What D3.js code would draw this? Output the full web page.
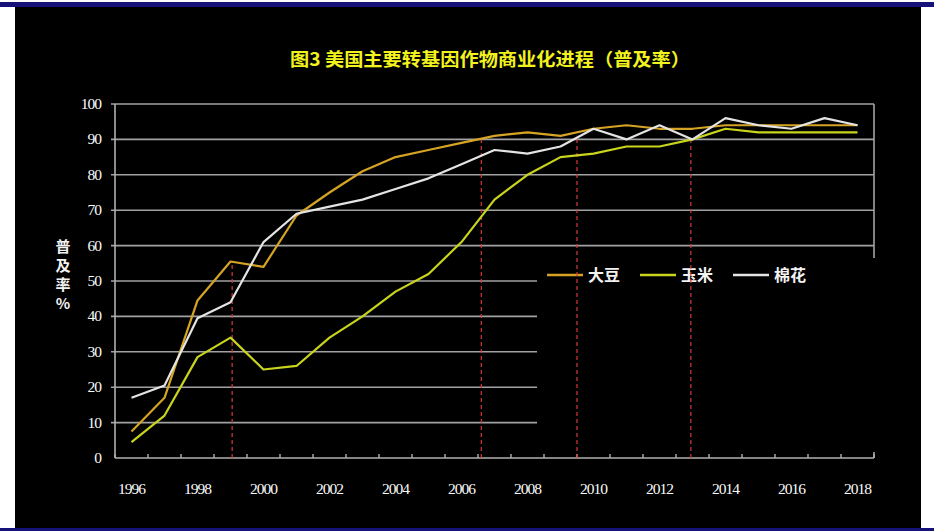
<!DOCTYPE html>
<html>
<head>
<meta charset="utf-8">
<script src="https://cdn.jsdelivr.net/npm/d3@7"></script>
<style>
  body { margin: 0; background: #fff; }
  svg { display: block; }
</style>
</head>
<body>
<svg id="chart" width="934" height="532"></svg>
<script>
// data
var years = d3.range(1996, 2019);
var soybean = [7.5, 17, 44.5, 55.5, 54, 68.5, 75, 81, 85, 87, 89, 91, 92, 91, 93, 94, 93, 93, 94, 94, 94, 94, 94];
var corn = [4.5, 12, 28.5, 34, 25, 26, 34, 40, 47, 52, 61, 73, 80, 85, 86, 88, 88, 90, 93, 92, 92, 92, 92];
var cotton = [17, 20.5, 39.5, 44, 61, 69, 71, 73, 76, 79, 83, 87, 86, 88, 93, 90, 94, 90, 96, 94, 93, 96, 94];
var seriesNames = ["大豆", "玉米", "棉花"];
var yTicks = [0, 10, 20, 30, 40, 50, 60, 70, 80, 90, 100];
var xLabels = [1996, 1998, 2000, 2002, 2004, 2006, 2008, 2010, 2012, 2014, 2016, 2018];
var markerYears = [1999.05, 2006.6, 2009.5, 2012.95];
var markerTops = [55.5, 90, 91, 90];

var colours = ["#d6a424", "#c9d41c", "#e4e4e4"];
var series = [soybean, corn, cotton];

var svg = d3.select("#chart");

// frame: blue rules and black panel
svg.append("rect").attr("x", 0).attr("y", 2).attr("width", 934).attr("height", 5).attr("fill", "#17127a");
svg.append("rect").attr("x", 15).attr("y", 7).attr("width", 906).attr("height", 521).attr("fill", "#000");
svg.append("rect").attr("x", 0).attr("y", 528).attr("width", 934).attr("height", 3).attr("fill", "#17127a");

var x = d3.scaleLinear().domain([1995.5, 2018.5]).range([115, 874]);
var y = d3.scaleLinear().domain([0, 100]).range([458, 104]);

svg.append("text")
	.attr("x", 490).attr("y", 66)
	.attr("text-anchor", "middle")
	.attr("fill", "#f2f21e")
	.attr("font-family", "'Noto Sans CJK SC', sans-serif")
	.attr("font-weight", "bold")
	.attr("font-size", 18)
	.attr("textLength", 400)
	.attr("lengthAdjust", "spacingAndGlyphs")
	.text("图3 美国主要转基因作物商业化进程（普及率）");

// grid
var grid = svg.append("g");
grid.selectAll("line")
	.data(yTicks.slice(1))
	.join("line")
	.attr("x1", 111).attr("x2", x(2018.5))
	.attr("y1", d => y(d)).attr("y2", d => y(d))
	.attr("stroke", "#a2a2a2").attr("stroke-width", 1.6);

// right border of plot
svg.append("line")
	.attr("x1", x(2018.5)).attr("x2", x(2018.5))
	.attr("y1", y(100)).attr("y2", y(0))
	.attr("stroke", "#a2a2a2").attr("stroke-width", 1.6);

// y labels
svg.append("g").selectAll("text")
	.data(yTicks)
	.join("text")
	.attr("x", 101).attr("y", d => y(d) + 5)
	.attr("text-anchor", "end")
	.attr("fill", "#fafafa")
	.attr("font-family", "'Liberation Serif', serif")
	.attr("font-size", 15.5)
	.attr("letter-spacing", -1)
	.text(d => d);

// y title
svg.append("g").selectAll("text")
	.data(["普", "及", "率", "%"])
	.join("text")
	.attr("x", 63).attr("y", (d, i) => 252 + i * 19)
	.attr("text-anchor", "middle")
	.attr("fill", "#f2f2f2")
	.attr("font-family", "'Noto Sans CJK SC', sans-serif")
	.attr("font-weight", "bold")
	.attr("font-size", 15)
	.text(d => d);

// legend box hides the grid under it
svg.append("rect")
	.attr("x", 537).attr("y", 258).attr("width", 343).attr("height", 194)
	.attr("fill", "#000");

var legend = svg.append("g").selectAll("g")
	.data(seriesNames)
	.join("g")
	.attr("transform", (d, i) => `translate(${547 + i * 93},275)`);
legend.append("line")
	.attr("x1", 0).attr("x2", 36)
	.attr("stroke", (d, i) => colours[i]).attr("stroke-width", 2.5);
legend.append("text")
	.attr("x", 41).attr("y", 6)
	.attr("fill", "#f2f2f2")
	.attr("font-family", "'Noto Sans CJK SC', sans-serif")
	.attr("font-weight", "bold")
	.attr("font-size", 16)
	.text(d => d);

// axes
svg.append("line")
	.attr("x1", 115).attr("x2", 115).attr("y1", y(100)).attr("y2", y(0))
	.attr("stroke", "#b0b0b0").attr("stroke-width", 1.6);
svg.append("line")
	.attr("x1", 115).attr("x2", x(2018.5)).attr("y1", y(0)).attr("y2", y(0))
	.attr("stroke", "#b0b0b0").attr("stroke-width", 1.6);
svg.append("g").selectAll("line")
	.data(d3.range(1995.5, 2019, 1))
	.join("line")
	.attr("x1", d => x(d)).attr("x2", d => x(d))
	.attr("y1", y(0)).attr("y2", y(0) - 4)
	.attr("stroke", "#b0b0b0").attr("stroke-width", 1.4);

svg.append("g").selectAll("text")
	.data(xLabels)
	.join("text")
	.attr("x", d => x(d)).attr("y", 494)
	.attr("text-anchor", "middle")
	.attr("fill", "#fafafa")
	.attr("font-family", "'Liberation Serif', serif")
	.attr("font-size", 15.5)
	.attr("letter-spacing", -1)
	.text(d => d);

// red dashed markers
svg.append("g").selectAll("line")
	.data(markerYears)
	.join("line")
	.attr("x1", d => x(d)).attr("x2", d => x(d))
	.attr("y1", y(0)).attr("y2", (d, i) => y(markerTops[i]))
	.attr("stroke", "#d83a3a").attr("stroke-width", 1.2)
	.attr("stroke-dasharray", "4,3");

// series lines
var line = d3.line()
	.x((d, i) => x(years[i]))
	.y(d => y(d));

svg.append("g").selectAll("path")
	.data(series)
	.join("path")
	.attr("d", line)
	.attr("fill", "none")
	.attr("stroke", (d, i) => colours[i])
	.attr("stroke-width", 2.2)
	.attr("stroke-linejoin", "round");
</script>
</body>
</html>
